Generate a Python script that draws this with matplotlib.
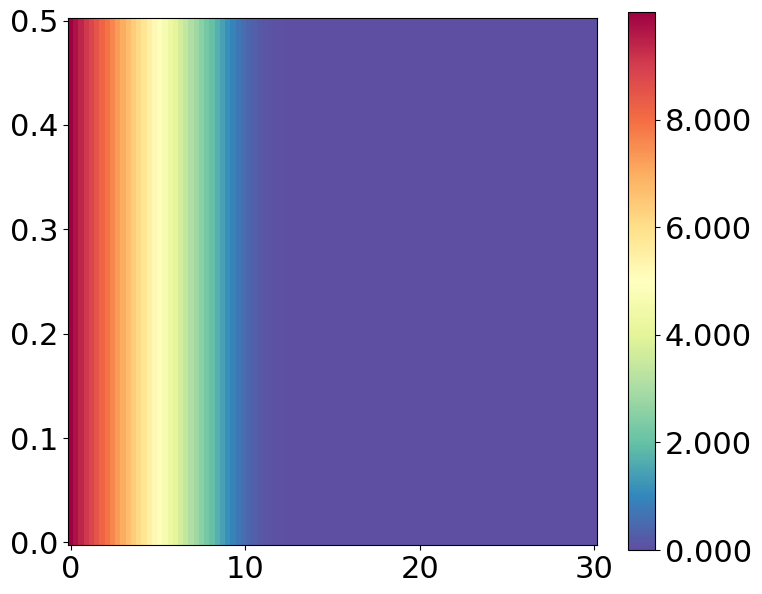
import numpy as np
import matplotlib
matplotlib.use('Agg')
import matplotlib.pyplot as plt

# grid centres
x_centers = np.linspace(0, 30, 101)
y_centers = np.linspace(0, 0.5, 101)

# value along x (same for every row)
profile = [10.0, 9.7, 9.4, 9.1, 8.8, 8.5, 8.2, 7.9, 7.6, 7.3,
           7.0, 6.7, 6.4, 6.1, 5.8, 5.5, 5.2, 4.9, 4.6, 4.3,
           4.0, 3.7, 3.4, 3.1, 2.82, 2.53, 2.24, 1.96, 1.69, 1.42,
           1.17, 0.94, 0.74, 0.56, 0.42, 0.31, 0.22, 0.15, 0.10, 0.07,
           0.045, 0.03, 0.02, 0.012, 0.008, 0.005] + [0.0] * 55

Z = np.tile(np.array(profile), (len(y_centers), 1))

plt.rcParams['font.size'] = 22
fig = plt.figure(figsize=(7.62, 5.94), dpi=100)
ax = fig.add_axes([68 / 762, 49 / 594, 529 / 762, 527 / 594])
cax = fig.add_axes([628 / 762, 44 / 594, 27 / 762, 538 / 594])

mesh = ax.pcolormesh(x_centers, y_centers, Z, cmap='Spectral_r', shading='nearest')
ax.set_xticks([0, 10, 20, 30])
ax.set_yticks([0.0, 0.1, 0.2, 0.3, 0.4, 0.5])

cb = fig.colorbar(mesh, cax=cax, format='%.3f')
cb.set_ticks([0, 2, 4, 6, 8])

fig.savefig('out.png', dpi=100)
